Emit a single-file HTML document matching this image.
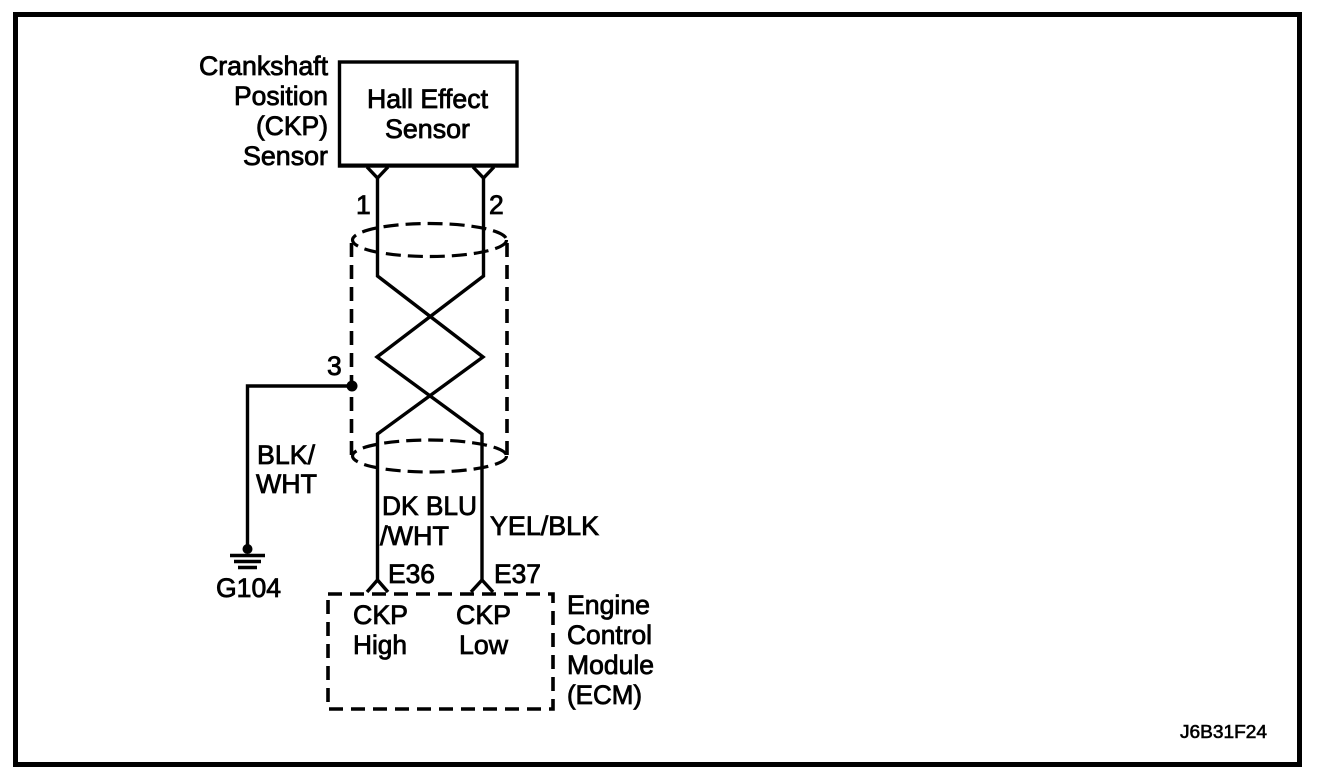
<!DOCTYPE html>
<html>
<head>
<meta charset="utf-8">
<style>
html,body{margin:0;padding:0;background:#fff;width:1328px;height:778px;overflow:hidden}
svg{display:block}
text{font-family:"Liberation Sans",Arial,sans-serif;font-size:26.5px;fill:#000;stroke:#000;stroke-width:.8px}
.l{fill:none;stroke:#000;stroke-width:3.4}
.d{fill:none;stroke:#000;stroke-width:3.6;stroke-dasharray:14 8}
.e{fill:none;stroke:#000;stroke-width:3.2;stroke-dasharray:15 7}
</style>
</head>
<body>
<svg width="1328" height="778" viewBox="0 0 1328 778" xmlns="http://www.w3.org/2000/svg">
<rect width="1328" height="778" fill="#fff"/>
<rect x="15.5" y="14.5" width="1284" height="750" fill="none" stroke="#000" stroke-width="5"/>

<rect x="339.5" y="62" width="177.5" height="104" fill="none" stroke="#000" stroke-width="3.4"/>
<rect x="338" y="163.5" width="180" height="3.6" fill="#000"/>

<polyline class="l" points="367,167 377.5,178 388,167"/>
<polyline class="l" points="473,167 483.5,178 494,167"/>

<polyline class="l" points="377.5,178 377.5,276 483,357 377.5,434 377.5,580"/>
<polyline class="l" points="483.5,178 483.5,276 377,357 482,434 482,580"/>

<ellipse class="e" cx="429.5" cy="240" rx="77" ry="16.5"/>
<ellipse class="e" cx="429.5" cy="456" rx="77" ry="16"/>
<line class="d" x1="351.5" y1="243" x2="351.5" y2="456"/>
<line class="d" x1="507" y1="243" x2="507" y2="456"/>

<polyline class="l" points="351,386 247.5,386 247.5,549"/>
<circle cx="352" cy="386" r="5.5" fill="#000"/>
<circle cx="247.5" cy="549" r="5" fill="#000"/>
<line class="l" x1="230" y1="555.5" x2="265" y2="555.5"/>
<line class="l" x1="234" y1="561.5" x2="261" y2="561.5"/>
<line class="l" x1="238" y1="567.5" x2="257" y2="567.5"/>

<polyline class="l" points="367,592 377.5,580 388,592"/>
<polyline class="l" points="471,592 482,580 493,592"/>
<rect class="d" x="328" y="594" width="225" height="115"/>

<text x="328" y="75" text-anchor="end" textLength="129" lengthAdjust="spacingAndGlyphs">Crankshaft</text>
<text x="328" y="105" text-anchor="end" textLength="94" lengthAdjust="spacingAndGlyphs">Position</text>
<text x="328" y="135" text-anchor="end" textLength="72" lengthAdjust="spacingAndGlyphs">(CKP)</text>
<text x="328" y="165" text-anchor="end" textLength="85" lengthAdjust="spacingAndGlyphs">Sensor</text>

<text x="367" y="108" textLength="121" lengthAdjust="spacingAndGlyphs">Hall Effect</text>
<text x="385" y="138" textLength="85" lengthAdjust="spacingAndGlyphs">Sensor</text>

<text x="356" y="214">1</text>
<text x="489" y="214">2</text>
<text x="327" y="375">3</text>

<text x="257" y="464" textLength="58" lengthAdjust="spacingAndGlyphs">BLK/</text>
<text x="256" y="493" textLength="61" lengthAdjust="spacingAndGlyphs">WHT</text>

<text x="382" y="515" textLength="95" lengthAdjust="spacingAndGlyphs">DK BLU</text>
<text x="380" y="545" textLength="69" lengthAdjust="spacingAndGlyphs">/WHT</text>
<text x="490" y="535" textLength="109" lengthAdjust="spacingAndGlyphs">YEL/BLK</text>

<text x="388" y="583" textLength="47" lengthAdjust="spacingAndGlyphs">E36</text>
<text x="494" y="583" textLength="47" lengthAdjust="spacingAndGlyphs">E37</text>
<text x="216" y="597" textLength="65" lengthAdjust="spacingAndGlyphs">G104</text>

<text x="353" y="624" textLength="55" lengthAdjust="spacingAndGlyphs">CKP</text>
<text x="353" y="654" textLength="54" lengthAdjust="spacingAndGlyphs">High</text>
<text x="456" y="624" textLength="55" lengthAdjust="spacingAndGlyphs">CKP</text>
<text x="459" y="654" textLength="49" lengthAdjust="spacingAndGlyphs">Low</text>

<text x="567" y="614" textLength="83" lengthAdjust="spacingAndGlyphs">Engine</text>
<text x="567" y="644" textLength="85" lengthAdjust="spacingAndGlyphs">Control</text>
<text x="567" y="674" textLength="87" lengthAdjust="spacingAndGlyphs">Module</text>
<text x="567" y="704" textLength="75" lengthAdjust="spacingAndGlyphs">(ECM)</text>

<text x="1180" y="738" textLength="87" lengthAdjust="spacingAndGlyphs" style="font-size:18px;stroke-width:.6px">J6B31F24</text>
</svg>
</body>
</html>
